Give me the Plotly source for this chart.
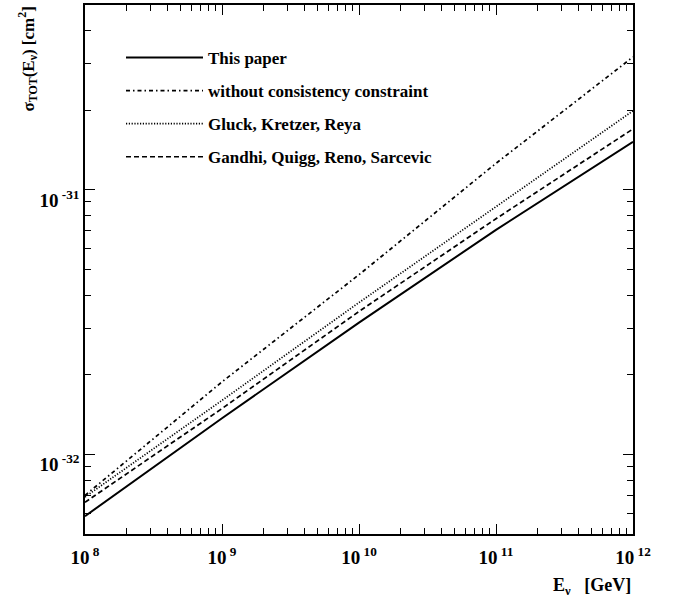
import plotly.graph_objects as go

energy = [1e8, 1e9, 1e10, 1e11, 1e12]
this_paper = [5.84e-33, 1.37e-32, 3.15e-32, 7.06e-32, 1.52e-31]
no_constraint = [7.00e-33, 1.88e-32, 4.78e-32, 1.26e-31, 3.18e-31]
gkr = [6.90e-33, 1.60e-32, 3.75e-32, 8.63e-32, 1.99e-31]
gqrs = [6.59e-33, 1.49e-32, 3.47e-32, 7.78e-32, 1.70e-31]

names = ["This paper", "without consistency constraint",
         "Gluck, Kretzer, Reya", "Gandhi, Quigg, Reno, Sarcevic"]

x_major = [1e8, 1e9, 1e10, 1e11, 1e12]
x_labels = ["10<sup> 8</sup>", "10<sup> 9</sup>", "10<sup> 10</sup>",
            "10<sup> 11</sup>", "10<sup> 12</sup>"]
y_major = [1e-32, 1e-31]
y_labels = ["10<sup> -32</sup>", "10<sup> -31</sup>"]

x_minor = [m * 10 ** e for e in range(8, 12) for m in range(2, 10)]
y_minor = ([m * 1e-33 for m in range(6, 10)] + [m * 1e-32 for m in range(2, 10)]
           + [m * 1e-31 for m in range(2, 6)])

FONT = "Liberation Serif"

fig = go.Figure()
styles = [
    dict(color="black", width=2, dash="solid"),
    dict(color="black", width=1.7, dash="4px,3px,1.5px,3px"),
    dict(color="black", width=1.7, dash="1.2px,1.6px"),
    dict(color="black", width=1.7, dash="5px,3px"),
]
series = [this_paper, no_constraint, gkr, gqrs]
for i, (nm, ys, st) in enumerate(zip(names, series, styles)):
    fig.add_trace(go.Scatter(x=energy, y=ys, mode="lines", name=nm,
                             line=st, legendgroup=f"g{i}"))

axis_common = dict(
    type="log", showline=True, linecolor="black", linewidth=1.5, mirror="allticks",
    ticks="inside", ticklen=10, tickwidth=1, tickcolor="black",
    showgrid=False, zeroline=False,
    tickfont=dict(family=FONT, size=19, color="black", weight="bold"),
)

fig.update_xaxes(
    **axis_common, range=[8, 12], tickmode="array", tickvals=x_major, ticktext=x_labels,
    ticklabelstandoff=5,
    minor=dict(ticks="inside", ticklen=6, tickcolor="black", tickwidth=1,
               tickmode="array", tickvals=x_minor, showgrid=False),
)
fig.update_yaxes(
    **axis_common, range=[-32.301, -30.301], tickmode="array", tickvals=y_major,
    ticktext=y_labels, ticklabelshift=10,
    minor=dict(ticks="inside", ticklen=6, tickcolor="black", tickwidth=1,
               tickmode="array", tickvals=y_minor, showgrid=False),
)

fig.add_annotation(
    text="σ<sub>TOT</sub>(E<sub>ν</sub>) [cm<sup>2</sup>]",
    textangle=-90, xref="paper", yref="paper", x=-0.104, y=1.0,
    xanchor="center", yanchor="top", showarrow=False,
    font=dict(family=FONT, size=17, color="black", weight="bold"),
)
fig.add_annotation(
    text="E<sub>ν</sub>   [GeV]", xref="paper", yref="paper", x=1.0, y=-0.1,
    xanchor="right", yanchor="middle", showarrow=False,
    font=dict(family=FONT, size=18, color="black", weight="bold"),
)

fig.update_layout(
    width=685, height=608,
    margin=dict(l=85, r=52, t=3, b=74),
    paper_bgcolor="white", plot_bgcolor="white",
    showlegend=True,
    legend=dict(x=0.0657, y=0.934, xanchor="left", yanchor="top",
                bgcolor="rgba(0,0,0,0)", borderwidth=0, itemwidth=77,
                tracegroupgap=8,
                font=dict(family=FONT, size=17, color="black", weight="bold")),
)

fig.write_html("out.html", config={"displayModeBar": False},
               post_script="document.body.style.margin='0';")
